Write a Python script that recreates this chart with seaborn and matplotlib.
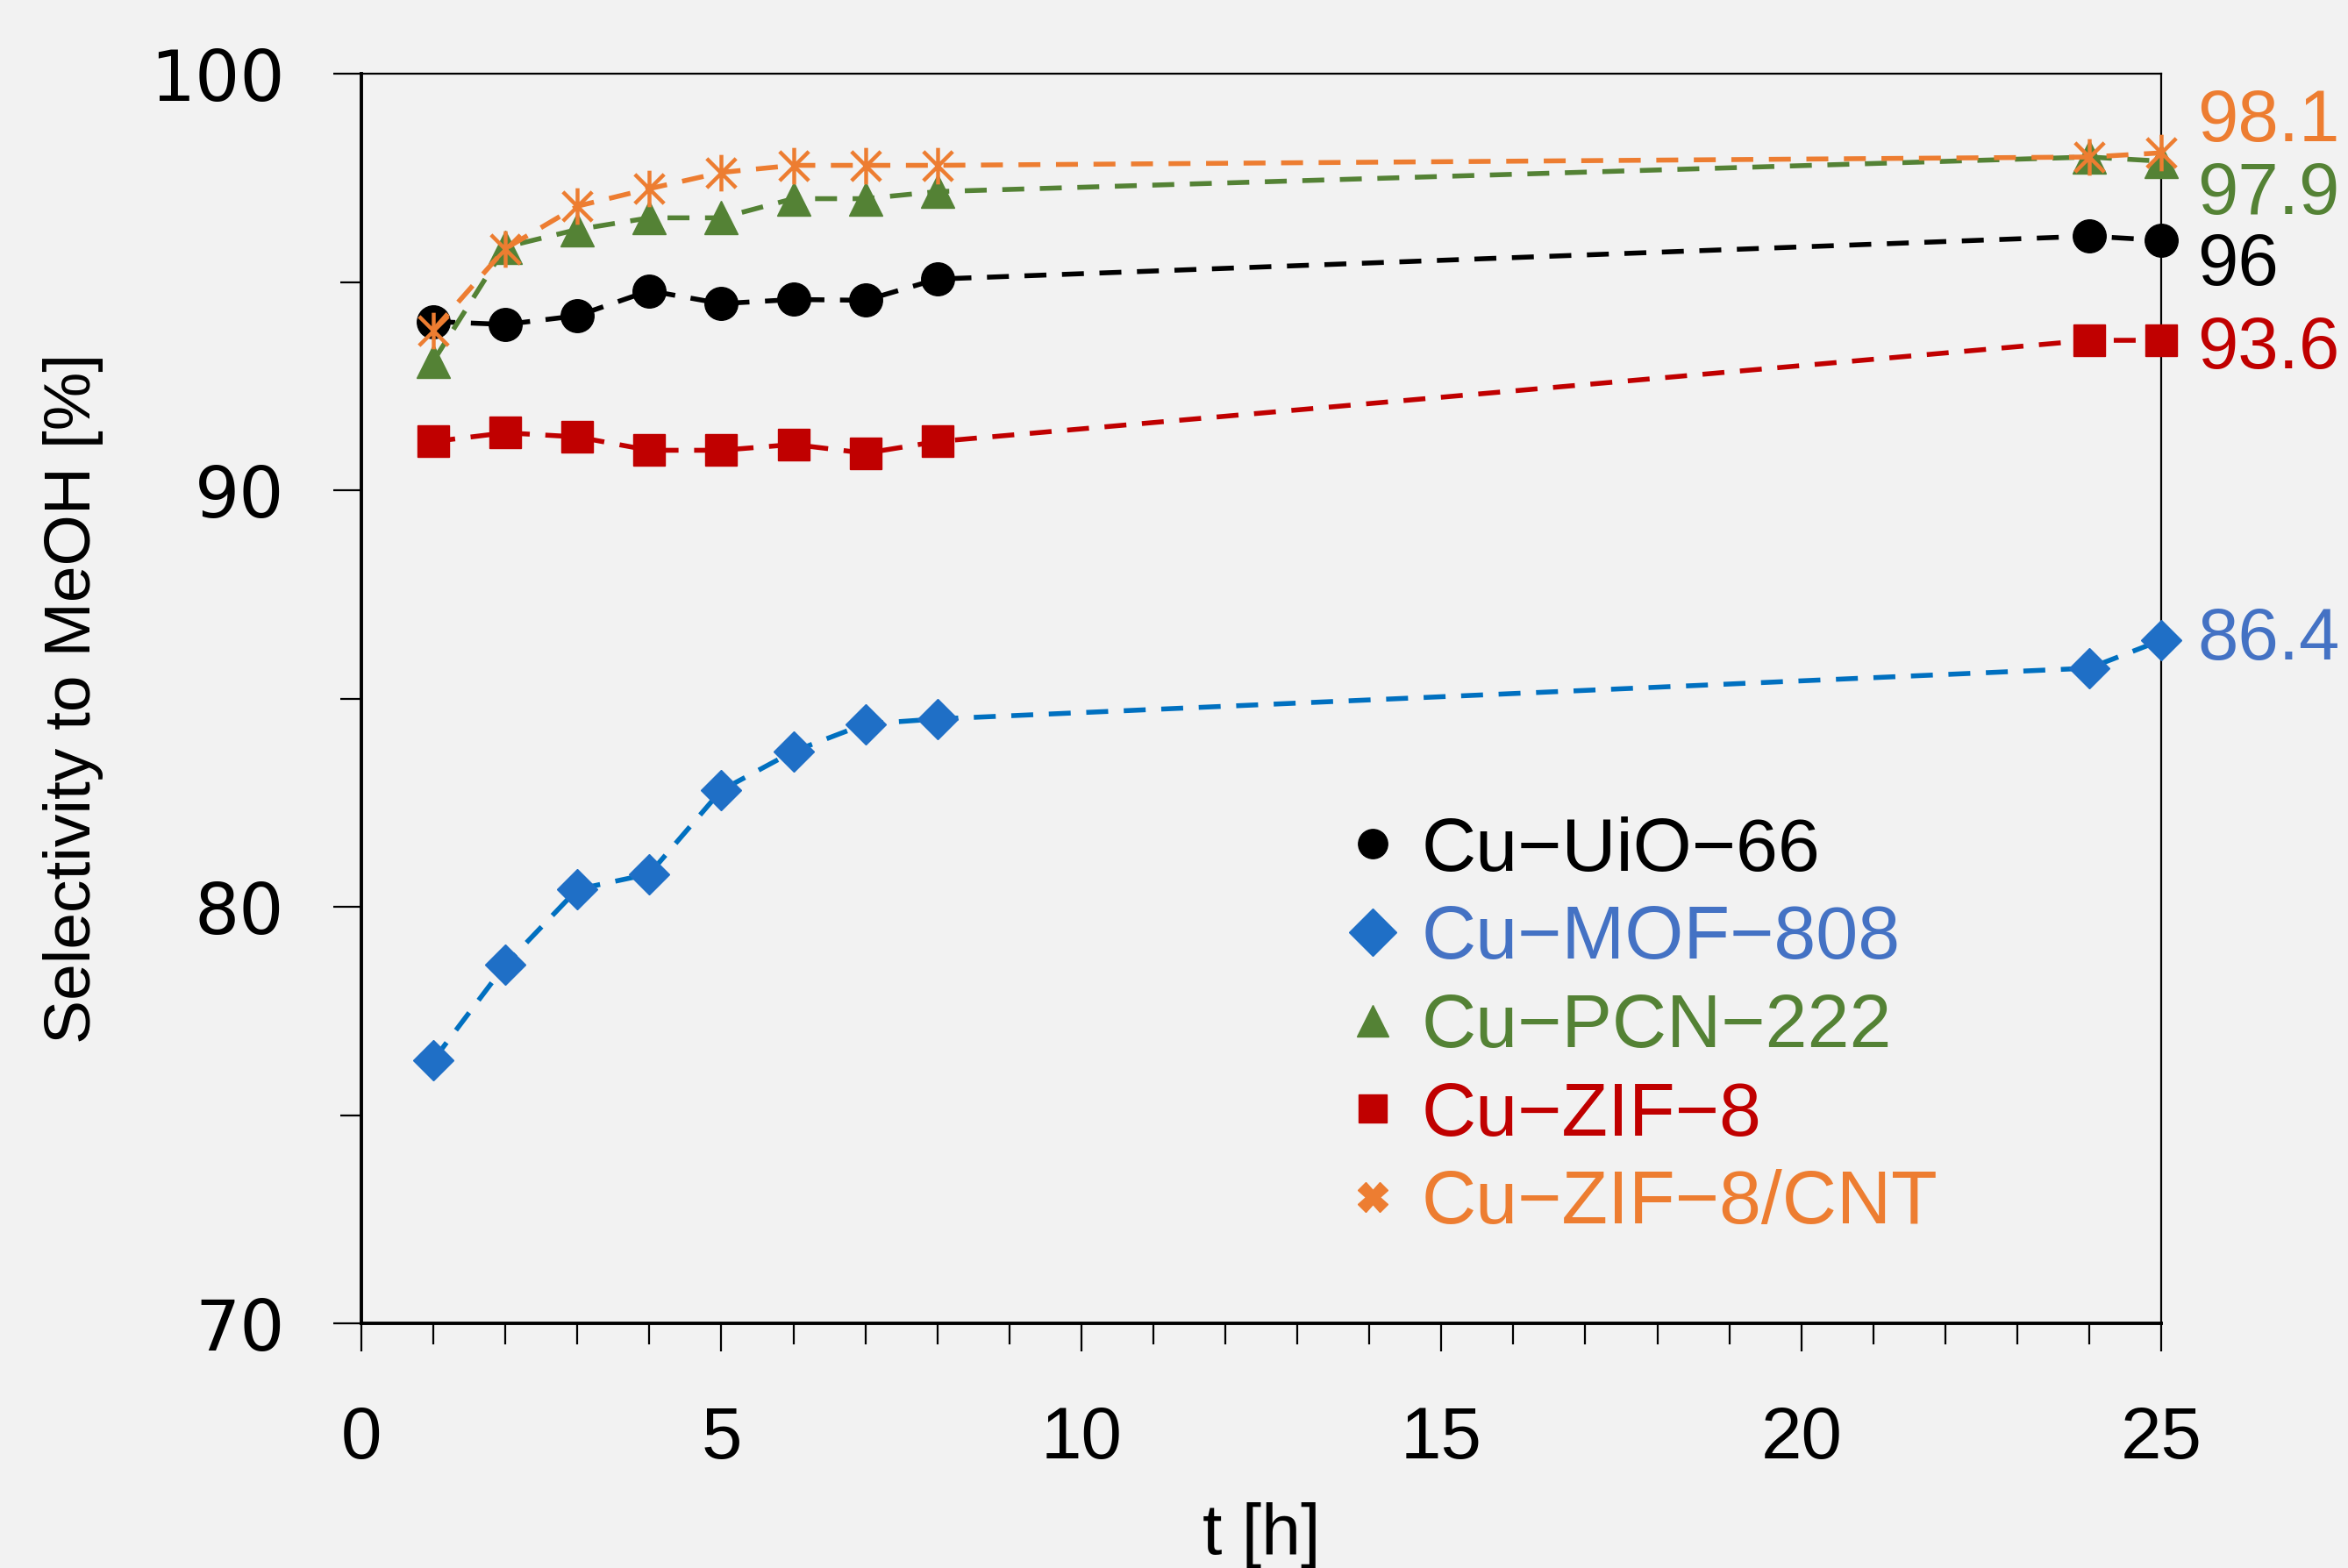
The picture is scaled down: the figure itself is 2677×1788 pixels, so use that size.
import warnings
warnings.filterwarnings('ignore')
import pandas as pd
import numpy as np
import matplotlib
matplotlib.use('Agg')
import matplotlib.pyplot as plt
from matplotlib.path import Path
from matplotlib.lines import Line2D
from matplotlib.ticker import MultipleLocator
import seaborn as sns

# time on stream [h]
t = [1, 2, 3, 4, 5, 6, 7, 8, 24, 25]

# selectivity to MeOH [%]
uio66 = [94.05, 93.98, 94.19, 94.79, 94.48, 94.58, 94.56, 95.07, 96.1, 96.0]
mof808 = [76.32, 78.61, 80.42, 80.79, 82.8, 83.73, 84.39, 84.51, 85.73, 86.4]
pcn222 = [93.1, 95.84, 96.26, 96.54, 96.54, 97.0, 97.0, 97.17, 98.0, 97.9]
zif8 = [91.17, 91.38, 91.28, 90.96, 90.96, 91.1, 90.89, 91.17, 93.6, 93.6]
zif8_cnt = [93.84, 95.8, 96.82, 97.24, 97.63, 97.8, 97.8, 97.8, 98.0, 98.1]

names = ['Cu\u2212UiO\u221266', 'Cu\u2212MOF\u2212808', 'Cu\u2212PCN\u2212222',
         'Cu\u2212ZIF\u22128', 'Cu\u2212ZIF\u22128/CNT']
end_labels = ['96', '86.4', '97.9', '93.6', '98.1']

series = [uio66, mof808, pcn222, zif8, zif8_cnt]

# Excel-like star marker: an x with a vertical bar
star = Path([(-1, -1), (1, 1), (-1, 1), (1, -1), (0, -1.25), (0, 1.25)],
            [Path.MOVETO, Path.LINETO, Path.MOVETO, Path.LINETO, Path.MOVETO, Path.LINETO])

line_col = ['#000000', '#0070C0', '#548235', '#C00000', '#ED7D31']
mark_col = ['#000000', '#1F6FC6', '#548235', '#C00000', '#ED7D31']
text_col = ['#000000', '#4472C4', '#548235', '#C00000', '#ED7D31']
markers = ['o', 'D', '^', 's', star]
msizes = [13.5, 11.5, 13.5, 13, 15]
leg_markers = ['o', 'D', '^', 's', 'X']
leg_sizes = [12, 14, 13, 11.5, 12]
# vertical nudges of the end labels so they do not overlap
label_dy = [-0.6, 0.0, -0.8, -0.2, 0.75]

df = pd.concat([pd.DataFrame({'t': t, 'sel': s, 'cat': n}) for s, n in zip(series, names)])

sns.set_theme(style='ticks')
plt.rcParams['font.family'] = ['Liberation Sans', 'DejaVu Sans']
plt.rcParams['text.color'] = 'black'
plt.rcParams['axes.labelcolor'] = 'black'
bg = '#F2F2F2'

fig = plt.figure(figsize=(13.385, 8.94), dpi=200, facecolor=bg)
ax = fig.add_axes([0.1539, 0.156, 0.7666, 0.797])
ax.set_facecolor(bg)

for i, n in enumerate(names):
    sub = df[df['cat'] == n]
    sns.lineplot(data=sub, x='t', y='sel', ax=ax, color=line_col[i], marker=markers[i],
                 markersize=msizes[i], markerfacecolor=mark_col[i], markeredgecolor=mark_col[i],
                 markeredgewidth=1.6 if i == 4 else 0.5, linewidth=2.0,
                 linestyle=(0, (4.5, 3.2)), errorbar=None, legend=False, clip_on=False, zorder=3)

ax.set_xlim(0, 25)
ax.set_ylim(70, 100)
ax.xaxis.set_major_locator(MultipleLocator(5))
ax.xaxis.set_minor_locator(MultipleLocator(1))
ax.yaxis.set_major_locator(MultipleLocator(10))
ax.yaxis.set_minor_locator(MultipleLocator(5))
ax.tick_params(axis='both', which='major', direction='out', length=11.5, width=0.8,
               colors='black', labelcolor='black')
ax.tick_params(axis='both', which='minor', direction='out', length=8.5, width=0.8, colors='black')
ax.tick_params(axis='x', which='major', pad=22, labelsize=30)
ax.tick_params(axis='y', which='major', pad=20, labelsize=29)
for lab in ax.get_yticklabels():
    lab.set_family('DejaVu Sans')

for side in ['top', 'right']:
    ax.spines[side].set_linewidth(0.8)
    ax.spines[side].set_color('black')
for side in ['left', 'bottom']:
    ax.spines[side].set_linewidth(1.4)
    ax.spines[side].set_color('black')

ax.set_xlabel('t [h]', fontsize=29, labelpad=12)
ax.set_ylabel('Selectivity to MeOH [%]', fontsize=27, labelpad=19)
ax.grid(False)

# values at the last point, right of the frame
for i, s in enumerate(series):
    ax.text(25.5, s[-1] + label_dy[i], end_labels[i], color=text_col[i], fontsize=30,
            va='center', ha='left', clip_on=False)

handles = [Line2D([], [], linestyle='none', marker=leg_markers[i], markersize=leg_sizes[i],
                  markerfacecolor=mark_col[i], markeredgecolor=mark_col[i], markeredgewidth=0.5)
           for i in range(len(names))]
leg = ax.legend(handles, names, loc='upper left', bbox_to_anchor=(0.545, 0.406), frameon=False,
                fontsize=31, handlelength=0.8, handletextpad=0.25, labelspacing=0.24,
                borderpad=0, borderaxespad=0)
for txt, c in zip(leg.get_texts(), text_col):
    txt.set_color(c)

fig.savefig('out.png', dpi=200, facecolor=bg)
